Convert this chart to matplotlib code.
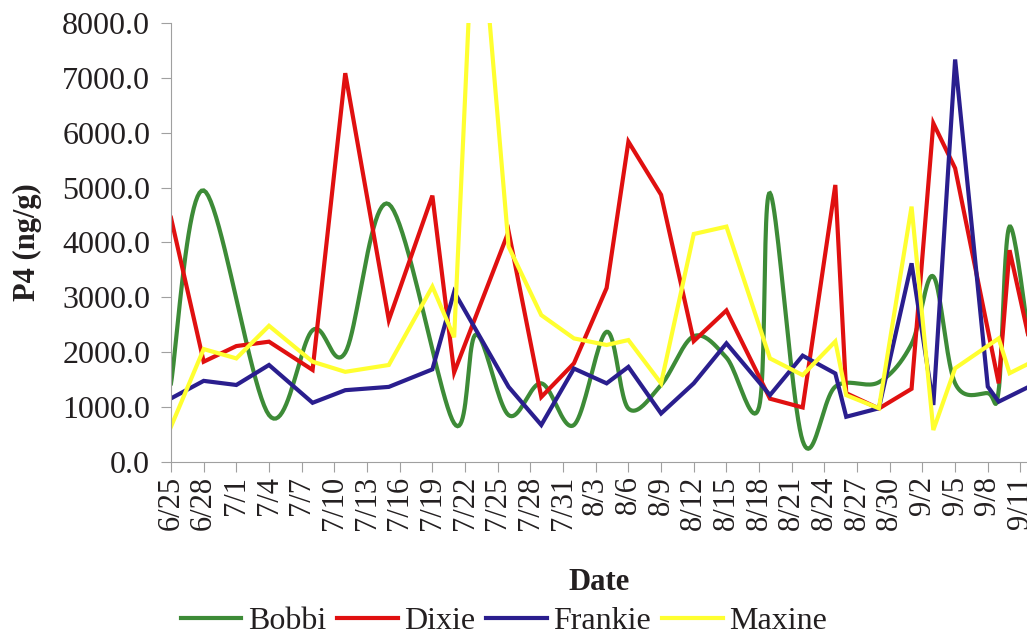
from datetime import datetime, timedelta
import numpy as np
import matplotlib
matplotlib.use("Agg")
from matplotlib import pyplot as plt

nan = float("nan")

# sampling dates (month/day) shared by all four animals
dates = ["6/25", "6/28", "7/1", "7/4", "7/8", "7/11", "7/15", "7/19", "7/21", "7/23",
         "7/26", "7/29", "8/1", "8/4", "8/6", "8/9", "8/12", "8/15", "8/18", "8/19",
         "8/22", "8/25", "8/26", "8/29", "9/1", "9/3", "9/5", "9/8", "9/9", "9/10", "9/12"]

bobbi = [1430, 4950, nan, 850, 2400, 1990, 4700, nan, 700, 2320,
         850, 1430, 670, 2370, 970, 1400, 2290, 1900, 1000, 4900,
         380, 1370, nan, 1450, 2150, 3380, 1430, 1250, 1300, 4290, 1900]
dixie = [4450, 1825, 2110, 2190, 1675, 7090, 2585, 4855, 1630, nan,
         4200, 1180, 1795, 3170, 5840, 4870, 2200, 2760, nan, 1150,
         990, 5050, 1250, 970, 1330, 6175, 5355, nan, 1430, 3860, 2050]
frankie = [1155, 1475, 1400, 1765, 1075, 1305, 1365, 1685, 3100, nan,
           1365, 670, 1700, 1430, 1730, 880, 1430, 2160, nan, 1215,
           1935, 1610, 820, 975, 3620, 1035, 7340, 1370, 1095, nan, 1390]
maxine = [640, 2055, 1885, 2480, 1825, 1640, 1765, 3195, 2270, 11000,
          3925, 2675, 2250, 2130, 2220, 1430, 4155, 4290, nan, 1885,
          1580, 2195, 1215, 975, 4655, 578, 1705, nan, 2250, 1615, 1815]

names = ["Bobbi", "Dixie", "Frankie", "Maxine"]
colors = ["#3d8b37", "#e01010", "#2a1e8e", "#ffff30"]
smoothed = [True, False, False, False]

start = datetime(2009, 6, 25)
days = np.array([(datetime.strptime(d + "/2009", "%m/%d/%Y") - start).days for d in dates], float)

tick_days = np.arange(0, 79, 3)
tick_labels = [(start + timedelta(days=int(t))).strftime("%-m/%-d") for t in tick_days]

text_color = "#231f20"
plt.rcParams["font.family"] = ["Liberation Serif", "DejaVu Serif"]

fig = plt.figure(figsize=(10.27, 6.39), dpi=100)
ax = fig.add_axes([171 / 1027, 177.3 / 639, 1 - 171 / 1027, 438.4 / 639])
ax.set_xlim(0, 78.6)
ax.set_ylim(0, 8000)


def smooth_xy(x, y, n=24):
    # Excel-style bezier smoothing, done in display space
    pts = ax.transData.transform(np.column_stack([x, y]))
    segs = []
    t = np.linspace(0, 1, n)[:, None]
    for i in range(len(pts) - 1):
        p0 = pts[max(i - 1, 0)]
        p1 = pts[i]
        p2 = pts[i + 1]
        p3 = pts[min(i + 2, len(pts) - 1)]
        c1 = p1 + (p2 - p0) / 6
        c2 = p2 - (p3 - p1) / 6
        segs.append((1 - t) ** 3 * p1 + 3 * (1 - t) ** 2 * t * c1 + 3 * (1 - t) * t ** 2 * c2 + t ** 3 * p2)
    xy = ax.transData.inverted().transform(np.vstack(segs))
    return xy[:, 0], xy[:, 1]


for vals, name, col, sm in zip([bobbi, dixie, frankie, maxine], names, colors, smoothed):
    v = np.array(vals, float)
    ok = ~np.isnan(v)
    x, y = days[ok], v[ok]
    if sm:
        x, y = smooth_xy(x, y)
    ax.plot(x, y, color=col, lw=3, label=name, solid_joinstyle="miter")

for s in ["top", "right"]:
    ax.spines[s].set_visible(False)
for s in ["left", "bottom"]:
    ax.spines[s].set_color("#a0a0a0")
    ax.spines[s].set_linewidth(0.8)

ax.set_yticks(np.arange(0, 8001, 1000))
ax.set_yticklabels(["%.1f" % v for v in np.arange(0, 8001, 1000)])
ax.set_xticks(tick_days)
ax.set_xticklabels(tick_labels, rotation=90, va="top", ha="center")
ax.tick_params(axis="both", colors="#a0a0a0", labelcolor=text_color, labelsize=22, length=7, width=0.8)
ax.tick_params(axis="x", pad=3)
ax.tick_params(axis="y", labelsize=23, pad=8)

fig.text(599 / 1027, 1 - 583 / 639, "Date", ha="center", va="center",
         fontsize=22, fontweight="bold", color=text_color)
fig.text(27 / 1027, 1 - 242 / 639, "P4 (ng/g)", ha="center", va="center", rotation=90,
         fontsize=22, fontweight="bold", color=text_color)

fig.legend(loc="center", bbox_to_anchor=(504 / 1027, 1 - 621 / 639), ncol=4, frameon=False,
           fontsize=23, handlelength=1.9, handletextpad=0.2, columnspacing=0.35, labelcolor=text_color)

fig.savefig("out.png", dpi=100)
